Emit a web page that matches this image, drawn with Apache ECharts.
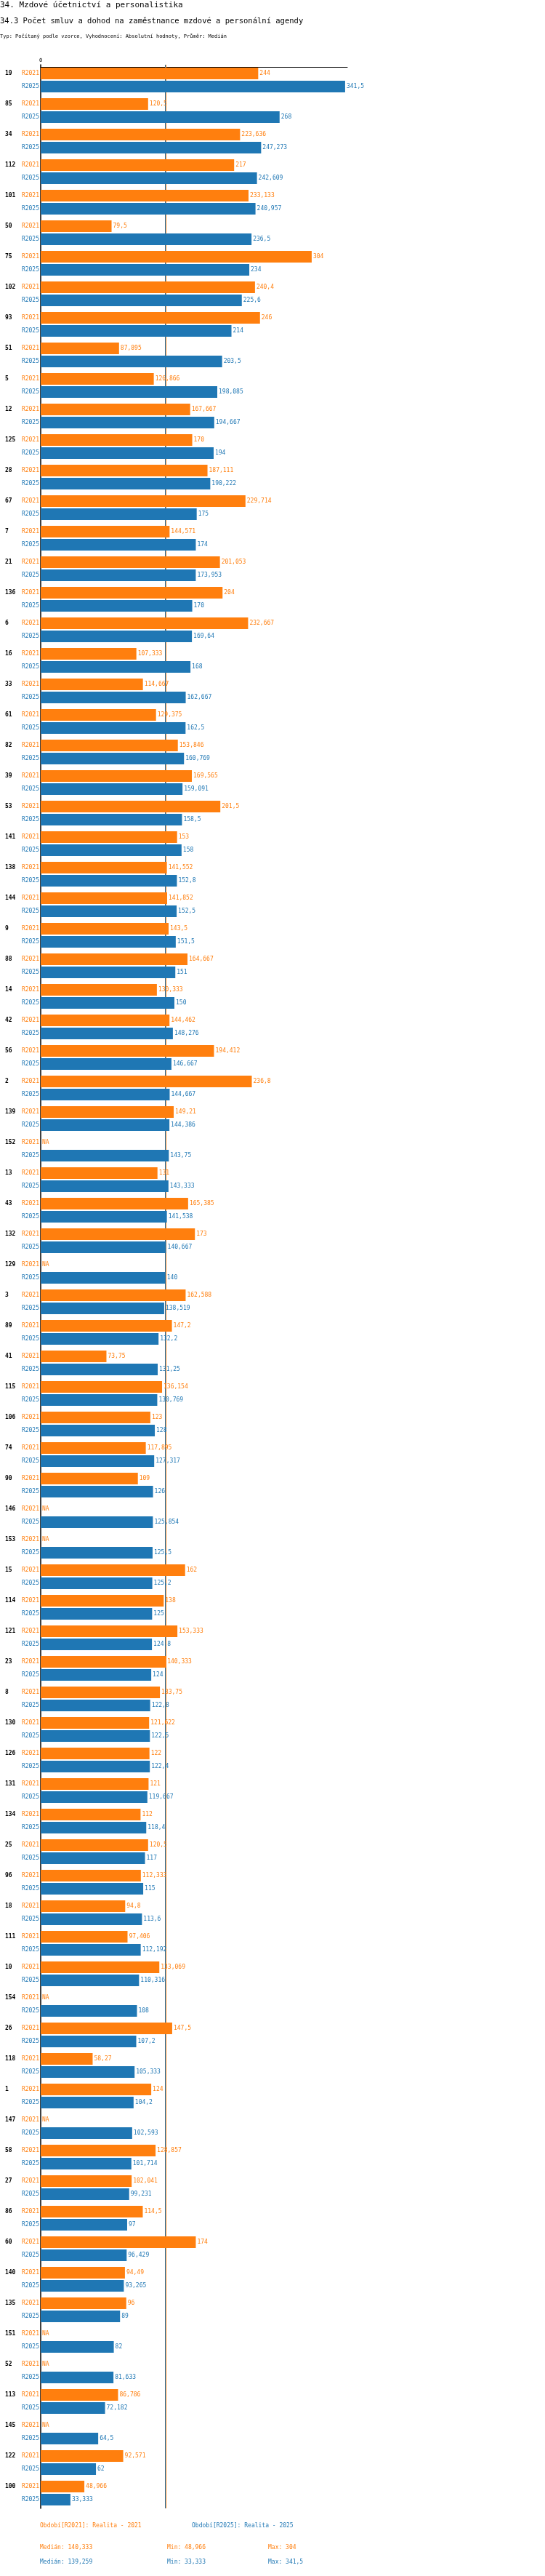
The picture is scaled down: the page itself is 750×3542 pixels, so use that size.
<!DOCTYPE html>
<html lang="cs">
<head>
<meta charset="UTF-8">
<title>34.3 Počet smluv a dohod</title>
<script src="https://cdn.jsdelivr.net/npm/echarts@6/dist/echarts.min.js"></script>
<style>
body{margin:0;background:#fff;}
#chart{width:750px;height:3542px;}
</style>
</head>
<body>
<div id="chart"></div>
<script type="text/javascript">
// data (sorted by R2025)
var categories = ['19','85','34','112','101','50','75','102','93','51',
    '5','12','125','28','67','7','21','136','6','16',
    '33','61','82','39','53','141','138','144','9','88',
    '14','42','56','2','139','152','13','43','132','129',
    '3','89','41','115','106','74','90','146','153','15',
    '114','121','23','8','130','126','131','134','25','96',
    '18','111','10','154','26','118','1','147','58','27',
    '86','60','140','135','151','52','113','145','122','100'];

var r2021 = [244,120.5,223.636,217,233.133,79.5,304,240.4,246,87.895,
    126.866,167.667,170,187.111,229.714,144.571,201.053,204,232.667,107.333,
    114.667,129.375,153.846,169.565,201.5,153,141.552,141.852,143.5,164.667,
    130.333,144.462,194.412,236.8,149.21,null,131,165.385,173,null,
    162.588,147.2,73.75,136.154,123,117.895,109,null,null,162,
    138,153.333,140.333,133.75,121.622,122,121,112,120.5,112.333,
    94.8,97.406,133.069,null,147.5,58.27,124,null,128.857,102.041,
    114.5,174,94.49,96,null,null,86.786,null,92.571,48.966];

var r2025 = [341.5,268,247.273,242.609,240.957,236.5,234,225.6,214,203.5,
    198.085,194.667,194,190.222,175,174,173.953,170,169.64,168,
    162.667,162.5,160.769,159.091,158.5,158,152.8,152.5,151.5,151,
    150,148.276,146.667,144.667,144.386,143.75,143.333,141.538,140.667,140,
    138.519,132.2,131.25,130.769,128,127.317,126,125.854,125.5,125.2,
    125,124.8,124,122.8,122.5,122.4,119.667,118.4,117,115,
    113.6,112.192,110.316,108,107.2,105.333,104.2,102.593,101.714,99.231,
    97,96.429,93.265,89,82,81.633,72.182,64.5,62,33.333];

var median2021 = 140.333, median2025 = 139.259;
var min2021 = 48.966, max2021 = 304;
var min2025 = 33.333, max2025 = 341.5;

var ORANGE = '#ff7f0e', BLUE = '#1f77b4';
var FONT = 'DejaVu Sans Mono';

function fmt(v) {
    return String(v).replace('.', ',');
}

var data2021 = r2021.map(function (v) {
    return v === null ? {value: 0, label: {formatter: 'NA'}} : v;
});

var myChart = echarts.init(document.getElementById('chart'));
myChart.setOption({
    animation: false,
    textStyle: {fontFamily: FONT},
    title: [
        {text: '34. Mzdové účetnictví a personalistika', left: 0, top: 2, padding: 0,
            textStyle: {fontFamily: FONT, fontSize: 11, fontWeight: 'normal', color: '#000'}},
        {text: '34.3 Počet smluv a dohod na zaměstnance mzdové a personální agendy', left: 0, top: 24, padding: 0,
            textStyle: {fontFamily: FONT, fontSize: 10.5, fontWeight: 'normal', color: '#000'}},
        {text: 'Typ: Počítaný podle vzorce, Vyhodnocení: Absolutní hodnoty, Průměr: Medián', left: 0, top: 47, padding: 0,
            textStyle: {fontFamily: FONT, fontSize: 7, fontWeight: 'normal', color: '#000'}}
    ],
    grid: {left: 56, top: 89, width: 422, height: 3360},
    xAxis: {
        type: 'value',
        position: 'top',
        min: 0,
        max: 344,
        offset: -3,
        splitLine: {show: false},
        axisTick: {show: false},
        axisLine: {show: true, lineStyle: {color: '#000', width: 1}},
        axisLabel: {
            margin: 5,
            fontSize: 7,
            color: '#000',
            formatter: function (v) { return v === 0 ? '0' : ''; }
        }
    },
    yAxis: {
        type: 'category',
        inverse: true,
        data: categories,
        axisTick: {show: false},
        axisLine: {show: true, lineStyle: {color: '#000', width: 1.5}},
        axisLabel: {
            interval: 0,
            margin: 2,
            formatter: function (v) {
                return '{c|' + v + '}{a|R2021}\n{b|R2025}';
            },
            rich: {
                c: {width: 23, align: 'left', fontWeight: 'bold', fontSize: 8, color: '#000', lineHeight: 18, fontFamily: FONT},
                a: {fontSize: 8, color: ORANGE, lineHeight: 18, fontFamily: FONT},
                b: {fontSize: 8, color: BLUE, lineHeight: 18, fontFamily: FONT}
            }
        }
    },
    series: [
        {
            name: 'R2021',
            type: 'bar',
            z: 3,
            barWidth: 16,
            barGap: '12.5%',
            data: data2021,
            itemStyle: {color: ORANGE},
            label: {
                show: true,
                position: 'right',
                distance: 2,
                fontSize: 8,
                fontFamily: FONT,
                color: ORANGE,
                formatter: function (p) { return fmt(p.value); }
            },
            markLine: {
                z: 1,
                silent: true,
                symbol: 'none',
                label: {show: false},
                lineStyle: {color: ORANGE, width: 1, type: 'solid'},
                data: [{xAxis: median2021}]
            }
        },
        {
            name: 'R2025',
            type: 'bar',
            z: 3,
            barWidth: 16,
            data: r2025,
            itemStyle: {color: BLUE},
            label: {
                show: true,
                position: 'right',
                distance: 2,
                fontSize: 8,
                fontFamily: FONT,
                color: BLUE,
                formatter: function (p) { return fmt(p.value); }
            },
            markLine: {
                z: 1,
                silent: true,
                symbol: 'none',
                label: {show: false},
                lineStyle: {color: BLUE, width: 1, type: 'solid'},
                data: [{xAxis: median2025}]
            }
        }
    ],
    graphic: [
        {type: 'text', left: 55, top: 3469, style: {text: 'Období[R2021]: Realita - 2021', fill: ORANGE, font: '8px ' + FONT}},
        {type: 'text', left: 264, top: 3469, style: {text: 'Období[R2025]: Realita - 2025', fill: BLUE, font: '8px ' + FONT}},
        {type: 'text', left: 55, top: 3499, style: {text: 'Medián: ' + fmt(median2021), fill: ORANGE, font: '8px ' + FONT}},
        {type: 'text', left: 230, top: 3499, style: {text: 'Min: ' + fmt(min2021), fill: ORANGE, font: '8px ' + FONT}},
        {type: 'text', left: 369, top: 3499, style: {text: 'Max: ' + fmt(max2021), fill: ORANGE, font: '8px ' + FONT}},
        {type: 'text', left: 55, top: 3519, style: {text: 'Medián: ' + fmt(median2025), fill: BLUE, font: '8px ' + FONT}},
        {type: 'text', left: 230, top: 3519, style: {text: 'Min: ' + fmt(min2025), fill: BLUE, font: '8px ' + FONT}},
        {type: 'text', left: 369, top: 3519, style: {text: 'Max: ' + fmt(max2025), fill: BLUE, font: '8px ' + FONT}}
    ]
});
</script>
</body>
</html>
